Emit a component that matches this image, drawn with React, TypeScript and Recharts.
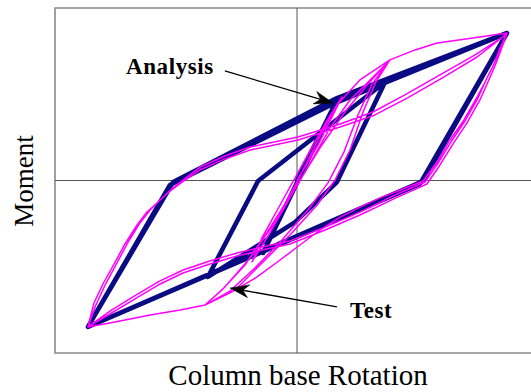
import React from 'react';
import { LineChart, Line, XAxis, YAxis, ReferenceLine, ReferenceArea } from 'recharts';

// Analysis (normalized rotation / moment)
const analysisRotation = [0, 0.165, -0.140, 0.165, -0.140, 0.165, 0.364, 0.165, -0.008, -0.368, -0.161, 0.364, 0.165, -0.008, -0.368, -0.161, 0.364, 0.868, 0.521, -0.864, -0.512, 0.165, 0.868, 0.508, -0.864, -0.525, 0.157, 0.868];
const analysisMoment = [0, 0.467, -0.420, 0.467, -0.420, 0.467, 0.571, -0.009, -0.241, -0.559, -0.003, 0.571, -0.009, -0.241, -0.559, -0.003, 0.571, 0.855, -0.003, -0.849, -0.009, 0.478, 0.855, -0.020, -0.849, -0.026, 0.449, 0.855];

// Test (normalized rotation / moment), one line per loading branch
const testRotation = [
  0, 0.087, 0.186,
  0.120, 0.033, -0.070, -0.145, -0.186,
  -0.120, -0.029, 0.062, 0.136, 0.219, 0.302, 0.384,
  0.326, 0.273, 0.219, 0.157, 0.083, -0.029, -0.153, -0.256, -0.380,
  -0.310, -0.215, -0.112, 0, 0.103, 0.198, 0.293, 0.384,
  0.310, 0.252, 0.194, 0.128, 0.045, -0.062, -0.174, -0.277, -0.380,
  -0.298, -0.194, -0.091, 0.004, 0.087, 0.165, 0.260, 0.384,
  0.488, 0.579, 0.727, 0.868,
  0.839, 0.810, 0.777, 0.744, 0.690, 0.632, 0.579, 0.521, 0.426, 0.343, 0.260, 0.178, 0.095, 0.012, -0.070, -0.165, -0.269, -0.380,
  -0.483, -0.607, -0.752, -0.864,
  -0.831, -0.793, -0.744, -0.698, -0.649, -0.607, -0.566, -0.517, -0.471, -0.401, -0.298, -0.194, 0.004, 0.178, 0.314, 0.446, 0.591, 0.736, 0.851, 0.868,
  0.839, 0.814, 0.781, 0.748, 0.694, 0.636, 0.583, 0.529, 0.405, 0.260, 0.116, -0.029, -0.145, -0.248, -0.360, -0.471, -0.574, -0.678, -0.773, -0.864,
  -0.839, -0.802, -0.756, -0.711, -0.661, -0.620, -0.574, -0.525, -0.479, -0.401, -0.298, -0.194, 0.004, 0.178, 0.322, 0.455, 0.599, 0.744, 0.860, 0.868,
  0.843, 0.818, 0.789, 0.756, 0.702, 0.645, 0.591, 0.537, 0.409, 0.260, 0.116, -0.029, -0.145, -0.248, -0.360, -0.471, -0.574, -0.678, -0.773, -0.864,
];
const testMoment = [
  0, 0.206, 0.484,
  0.339, 0.119, -0.142, -0.333, -0.472,
  -0.322, -0.101, 0.119, 0.304, 0.467, 0.583, 0.699,
  0.571, 0.397, 0.177, 0.003, -0.142, -0.316, -0.490, -0.635, -0.722,
  -0.635, -0.490, -0.275, -0.026, 0.206, 0.397, 0.559, 0.699,
  0.559, 0.380, 0.165, -0.014, -0.171, -0.345, -0.507, -0.641, -0.722,
  -0.617, -0.449, -0.241, 0.003, 0.235, 0.438, 0.583, 0.699,
  0.757, 0.797, 0.826, 0.855,
  0.757, 0.664, 0.571, 0.484, 0.351, 0.235, 0.107, -0.003, -0.055, -0.101, -0.154, -0.212, -0.287, -0.374, -0.461, -0.559, -0.646, -0.722,
  -0.751, -0.780, -0.820, -0.849,
  -0.722, -0.606, -0.478, -0.357, -0.246, -0.171, -0.113, -0.049, 0.003, 0.078, 0.142, 0.194, 0.252, 0.328, 0.397, 0.496, 0.612, 0.728, 0.832, 0.855,
  0.768, 0.675, 0.583, 0.478, 0.345, 0.223, 0.101, -0.009, -0.084, -0.183, -0.270, -0.351, -0.386, -0.420, -0.467, -0.519, -0.588, -0.675, -0.757, -0.849,
  -0.710, -0.600, -0.484, -0.368, -0.258, -0.183, -0.125, -0.061, -0.014, 0.061, 0.125, 0.177, 0.235, 0.310, 0.380, 0.478, 0.594, 0.716, 0.843, 0.855,
  0.757, 0.664, 0.571, 0.467, 0.333, 0.212, 0.090, -0.020, -0.101, -0.200, -0.287, -0.368, -0.403, -0.438, -0.484, -0.536, -0.606, -0.693, -0.774, -0.849,
];

// Annotations
const annotationLabels = ['Analysis', 'Test'];
const annotationFromX = [-0.298, 0.165];
const annotationFromY = [0.635, -0.733];
const annotationToX = [0.149, -0.277];
const annotationToY = [0.449, -0.623];

const xTitle = 'Column base Rotation';
const yTitle = 'Moment';

const analysisData = analysisRotation.map((x, i) => ({ x, y: analysisMoment[i] }));
const testData = testRotation.map((x, i) => ({ x, y: testMoment[i] }));

const SERIF = '"Liberation Serif", "Times New Roman", serif';

function ArrowShape(props: any) {
  const { x1, y1, x2, y2, label, idx } = props;
  if ([x1, y1, x2, y2].some((v) => typeof v !== 'number' || isNaN(v))) return <g />;
  const dx = x2 - x1;
  const dy = y2 - y1;
  const len = Math.hypot(dx, dy) || 1;
  const ux = dx / len;
  const uy = dy / len;
  const nx = -uy;
  const ny = ux;
  const L = 19;
  const hw = 6.5;
  const bx = x2 - L * ux;
  const by = y2 - L * uy;
  const mx = x2 - (L - 6) * ux;
  const my = y2 - (L - 6) * uy;
  const pts = `${x2},${y2} ${bx + hw * nx},${by + hw * ny} ${mx},${my} ${bx - hw * nx},${by - hw * ny}`;
  const isLeft = idx === 0;
  return (
    <g>
      <line x1={x1} y1={y1} x2={mx} y2={my} stroke="#000" strokeWidth={1.3} />
      <polygon points={pts} fill="#000" stroke="#000" strokeWidth={0.5} />
      <text
        x={isLeft ? x1 - 11 : x1 + 13}
        y={isLeft ? y1 + 3 : y1 + 11}
        textAnchor={isLeft ? 'end' : 'start'}
        fontFamily={SERIF}
        fontWeight="bold"
        fontSize={23}
        letterSpacing={0.6}
        fill="#000"
      >
        {label}
      </text>
    </g>
  );
}

export default function App() {
  return (
    <div style={{ position: 'absolute', left: 0, top: 0, width: 531, height: 392, overflow: 'hidden', background: '#fff' }}>
      <LineChart width={545} height={392} margin={{ top: 8, right: 6, bottom: 0, left: 0 }}>
        <XAxis
          type="number"
          dataKey="x"
          domain={[-1, 1]}
          allowDataOverflow
          tick={false}
          tickLine={false}
          axisLine={false}
          height={39}
        />
        <YAxis
          type="number"
          dataKey="y"
          domain={[-1, 1]}
          allowDataOverflow
          tick={false}
          tickLine={false}
          axisLine={false}
          width={55}
        />
        <ReferenceArea x1={-1} x2={1} y1={-1} y2={1} fill="none" stroke="#8a8a8a" strokeWidth={1.6} />
        <ReferenceLine x={0} stroke="#555" strokeWidth={1} />
        <ReferenceLine y={0} stroke="#555" strokeWidth={1} />
        <Line
          data={analysisData}
          dataKey="y"
          type="linear"
          stroke="#0a0a82"
          strokeWidth={4.6}
          strokeLinejoin="round"
          strokeLinecap="round"
          dot={false}
          activeDot={false}
          isAnimationActive={false}
        />
        <Line
          data={testData}
          dataKey="y"
          type="linear"
          stroke="#ff00ff"
          strokeWidth={1.5}
          strokeLinejoin="round"
          dot={false}
          activeDot={false}
          isAnimationActive={false}
        />
        {annotationLabels.map((label, i) => (
          <ReferenceLine
            key={label}
            segment={[
              { x: annotationFromX[i], y: annotationFromY[i] },
              { x: annotationToX[i], y: annotationToY[i] },
            ]}
            stroke="#000"
            shape={(p: any) => <ArrowShape {...p} label={label} idx={i} />}
          />
        ))}
      </LineChart>
      <svg width={531} height={392} style={{ position: 'absolute', left: 0, top: 0, pointerEvents: 'none' }}>
        <text x={298} y={385} textAnchor="middle" fontFamily={SERIF} fontSize={29} fill="#000">
          {xTitle}
        </text>
        <text
          x={33}
          y={181}
          textAnchor="middle"
          transform="rotate(-90 33 181)"
          fontFamily={SERIF}
          fontSize={27}
          fill="#000"
        >
          {yTitle}
        </text>
      </svg>
    </div>
  );
}
